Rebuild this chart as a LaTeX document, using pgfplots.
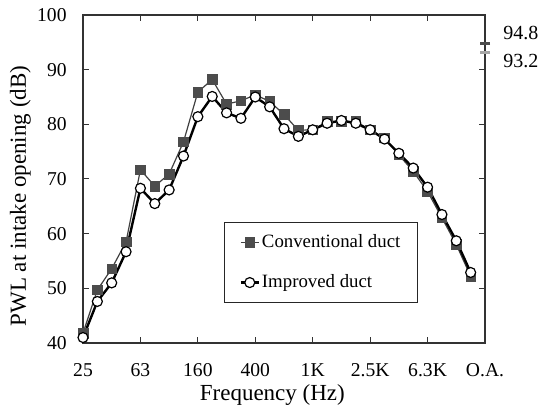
\documentclass[border=0pt]{standalone}
\usepackage{fontspec}
\setmainfont{Liberation Serif}
\usepackage{pgfplots}
\pgfplotsset{compat=1.18}
\begin{document}
\begin{tikzpicture}
\begin{axis}[
  scale only axis,
  width=201pt, height=164pt,
  xmin=0, xmax=28, ymin=40, ymax=100,
  xtick={0,4,8,12,16,20,24,28},
  xticklabels={25,63,160,400,1K,2.5K,6.3K,O.A.},
  ytick={40,50,60,70,80,90,100},
  tick align=inside,
  major tick length=3pt,
  tick style={black!80, line width=0.5pt},
  axis line style={black!80, line width=0.8pt},
  /pgf/number format/assume math mode=true,
  ticklabel style={font=\fontsize{9.8}{11}\selectfont},
  yticklabel style={inner sep=0pt, xshift=-8pt},
  xticklabel style={inner sep=0pt, yshift=-10pt},
  xlabel={Frequency (Hz)},
  ylabel={PWL at intake opening (dB)},
  every axis x label/.style={at={(axis description cs:0.471,-0.1738)}, anchor=base, font=\fontsize{11.5}{13}\selectfont},
  every axis y label/.style={at={(axis description cs:-0.1418,0.448)}, rotate=90, anchor=base, font=\fontsize{11.5}{13}\selectfont},
  clip=false,
  legend style={at={(axis description cs:0.3507,0.369)}, anchor=north west,
    draw=black!85, line width=0.6pt, inner xsep=7.5pt, inner ysep=4.5pt,
    font=\fontsize{9.4}{11}\selectfont, row sep=9pt, column sep=0pt,
    nodes={inner sep=1pt, text height=7pt, text depth=2pt}},
  legend cell align=left,
  legend image code/.code={\draw[mark repeat=2, mark phase=2] plot coordinates {(0pt,0pt) (4.5pt,0pt) (9pt,0pt)};},
]
\addplot[color=black!75, line width=0.6pt, mark=square*, mark size=2.4pt,
  mark options={fill=black!70, draw=black!70, line width=0.3pt}]
coordinates {
(0,41.8) (1,49.7) (2,53.6) (3,58.5) (4,71.7) (5,68.7) (6,70.9) (7,76.8)
(8,85.9) (9,88.2) (10,83.7) (11,84.3) (12,85.4) (13,84.2) (14,81.8) (15,78.9)
(16,79.0) (17,80.5) (18,80.5) (19,80.5) (20,79.0) (21,77.5) (22,74.4) (23,71.4)
(24,67.7) (25,62.9) (26,58.0) (27,52.2)};
\addlegendentry{Conventional duct}
\addplot[color=black, line width=1.2pt, mark=*, mark size=2.5pt,
  mark options={fill=white, draw=black, line width=0.6pt}]
coordinates {
(0,41.0) (1,47.6) (2,51.0) (3,56.7) (4,68.3) (5,65.5) (6,68.0) (7,74.2)
(8,81.4) (9,85.1) (10,82.1) (11,81.1) (12,85.0) (13,83.2) (14,79.2) (15,77.8)
(16,79.0) (17,80.2) (18,80.7) (19,80.2) (20,79.0) (21,77.3) (22,74.7) (23,72.0)
(24,68.5) (25,63.5) (26,58.7) (27,52.9)};
\addlegendentry{Improved duct}
\addplot[only marks, mark=-, mark size=2.5pt, mark options={line width=1.4pt, draw=black!70}, forget plot] coordinates {(28,94.8)};
\addplot[only marks, mark=-, mark size=2.5pt, mark options={line width=1.4pt, draw=black!35}, forget plot] coordinates {(28,93.2)};
\node[anchor=west, inner sep=0pt, xshift=9pt, font=\fontsize{10}{12}\selectfont] at (axis cs:28,96.7) {94.8};
\node[anchor=west, inner sep=0pt, xshift=9pt, font=\fontsize{10}{12}\selectfont] at (axis cs:28,91.5) {93.2};
\end{axis}
\pgfresetboundingbox
\path[use as bounding box] (-41.5pt,-31pt) rectangle (228pt,171.5pt);
\end{tikzpicture}
\end{document}
